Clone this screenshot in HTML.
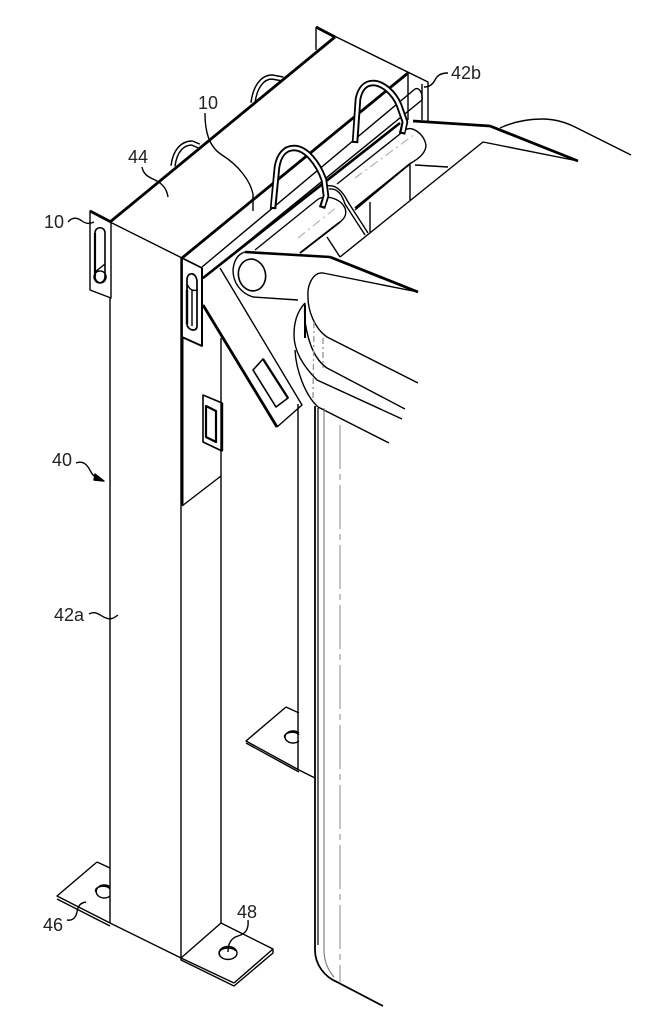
<!DOCTYPE html>
<html><head><meta charset="utf-8"><style>
html,body{margin:0;padding:0;background:#fff;width:654px;height:1024px;overflow:hidden}
svg{display:block}
text{font-family:"Liberation Sans",sans-serif;font-size:18px;fill:#222;stroke:none}
</style></head><body>
<svg width="654" height="1024" viewBox="0 0 654 1024" xmlns="http://www.w3.org/2000/svg" fill="none" stroke="#000" stroke-width="1.4" stroke-linejoin="round">
<!-- back hooks -->
<path d="M173 166C175 150 183 143 192 143L199 146" stroke-width="5.5"/><path d="M173 166C175 150 183 143 192 143L199 146" stroke="#fff" stroke-width="2.6"/>
<path d="M253 103C255 86 263 77 272 77L283 79" stroke-width="5.5"/><path d="M253 103C255 86 263 77 272 77L283 79" stroke="#fff" stroke-width="2.6"/>
<!-- top -->
<path d="M316 27L316 50M316 27L428 82L428 121M335 37L316 27M422 84V120M408 73V120" />
<path d="M110 222L335 37M316 27L335 37" stroke-width="2.8"/>
<path d="M182 258L408 73" stroke-width="2.8"/>
<path d="M110 222L182 258"/>
<!-- rod & rails -->
<path d="M202 267L415 89M202 279L422 100M415 89C419 87 423 93 422 100" />
<path d="M203 278L400 123" stroke-width="2.6"/>
<path d="M413 121L490 126" stroke-width="2.8"/>
<path d="M490 126L578 161" stroke-width="2.8"/>
<path d="M578 161L483 142L340 257M500 128C515 121 530 119 542 119C555 119 565 122 575 127L631 155"/>
<path d="M410 165V200M415 165L448 167M370 202V232M327 237L340 257"/>
<!-- rollers -->
<path d="M337 184L405 130C412 125 424 134 426 145C426 152 420 158 411 163L355 210" fill="#fff"/>
<path d="M255 250L317 200C325 194 340 198 345 208C347 214 345 218 340 222L300 253" fill="#fff"/>
<path d="M355 178L415 134M298 238L338 206" stroke="#bbb" stroke-dasharray="9 4 2 4" />
<path d="M355 208L411 163M300 253L340 222" stroke-width="1.8"/>
<path d="M327 186C336 184 343 192 348 202L368 233M329 189C338 188 342 195 345 204L365 235" />
<!-- main post -->
<path d="M110 222V923M181 258V958M221 338V923" />
<path d="M110 923L181 958" />
<!-- left tab -->
<path d="M90 211L111 222V298L90 290Z" fill="#fff"/>
<path d="M90 211L111 222" stroke-width="2.8"/>
<path d="M95 233C95 226 105 226 105 233V276C105 285 95 285 95 276Z" fill="#fff" stroke-width="1.6"/>
<path d="M95 233V276" stroke-width="2.2"/>
<path d="M95 272L105 264M100 271a6 6 0 1 0 .1 0" />
<!-- panel below right tab -->
<path d="M182 336V505" stroke-width="3"/>
<path d="M182 506L221 476"/>
<path d="M203 395L222 403V451L203 442Z" stroke-width="1.6"/>
<path d="M222 403V451" stroke-width="2.4"/>
<path d="M206 406L216 411V442L206 437Z" stroke-width="2.2"/>
<!-- strap -->
<path d="M220 268L302 405L277 427L203 305Z" fill="#fff" stroke="none"/>
<path d="M220 268L302 405L277 427" />
<path d="M203 305L277 427" stroke-width="2.8"/>
<path d="M263 359L288 398L276 407L253 370Z" stroke-width="1.6"/>
<path d="M263 359L288 398" stroke-width="2.3"/>
<!-- right tab -->
<path d="M182 258L202 268V346L182 337Z" fill="#fff" stroke-width="1.8"/>
<path d="M202 268V346" stroke-width="2"/>
<path d="M187 280C187 271 197 272 197 282V326C197 333 187 330 187 324Z" fill="#fff" stroke-width="1.7"/>
<path d="M187 284C190 291 194 291 197 290M192 290V326" />
<path d="M187 290V324" stroke-width="2.4"/>
<!-- gate arm -->
<path d="M245 252L330 257L418 292L323 273C313 272 307 285 308 297L298 300L253 297C240 293 233 282 233 270C234 260 238 254 245 252Z" fill="#fff" stroke="none"/>
<path d="M245 252L330 257" stroke-width="2.6"/>
<path d="M330 257L418 292" stroke-width="2.8"/>
<path d="M245 252C238 254 234 260 233 270C233 282 240 293 253 297L298 300"/>
<path d="M418 292L323 273C313 272 307 285 308 297"/>
<ellipse cx="252" cy="275" rx="13.5" ry="16" transform="rotate(-12 252 275)" fill="#fff" stroke-width="1.6"/>
<!-- door curves -->
<path d="M308 297C308 310 314 328 327 337L418 383"/>
<path d="M305 303C303 322 309 356 327 368L405 409"/>
<path d="M305 303C297 312 294 322 294 335C294 352 305 368 317 380L402 419"/>
<path d="M305 305V338" stroke-width="2"/>
<path d="M295 350C296 370 305 395 318 407L389 443"/>
<path d="M314 322L313 400M323 338V368" stroke="#999" stroke-dasharray="6 3 2 3"/>
<!-- hooks front -->
<path d="M273 209L277 167C279 155 285 148 294 148C306 148 318 163 324 180L326 196L322 208" fill="none" stroke-width="6.5"/>
<path d="M273 207L277 167C279 155 285 148 294 148C306 148 318 163 324 180L326 196L323 206" fill="none" stroke="#fff" stroke-width="2.8"/>
<path d="M355 143L358 99C360 89 365 83 373 83C383 83 394 93 399 105L405 122L402 134" stroke-width="6.5"/>
<path d="M355 141L358 99C360 89 365 83 373 83C383 83 394 93 399 105L405 122L403 132" stroke="#fff" stroke-width="2.8"/>
<!-- verticals -->
<path d="M298 404V770"/>
<path d="M315 406V950C315 965 325 977 337 982L383 1006" stroke-width="1.8"/>
<path d="M318 408V945" stroke-width="1.2"/>
<path d="M324 408V950C324 962 328 970 334 977" stroke="#777" stroke-width="1.1"/>
<path d="M340 425V982" stroke="#888" stroke-width="1" stroke-dasharray="44 5 6 5"/>
<!-- back base plate -->
<path d="M286 707L246 741L299 770L315 778M286 707L299 713M246 743L299 772"/>
<path d="M299 733A8 6 0 1 0 299 741M299 735A7 4 0 0 0 285 738"/>
<!-- left base plate -->
<path d="M97 862L57 896L110 923M97 862L110 868M57 899L110 926" />
<path d="M110 887A8 6.5 0 1 0 110 896M110 889A7 4 0 0 0 96 892"/>
<!-- right base plate -->
<path d="M181 958L221 923L273 949V953L234 986L181 960V958M234 983L273 949M181 958L234 983"/>
<ellipse cx="228" cy="953" rx="9" ry="6.5" stroke-width="1.4"/>
<path d="M220 955A8 4.5 0 0 1 236 951"/>
<!-- leaders -->
<path d="M68 222C73 216 78 218 82 221C86 224 90 224 94 222"/>
<path d="M142 167C144 178 154 178 160 183C165 187 167 191 168 197"/>
<path d="M205 113C205 130 208 146 222 155C238 165 250 180 253 194L253 211"/>
<path d="M448 73C440 73 437 76 435 80C433 84 430 87 424 87"/>
<path d="M76 463C84 460 88 466 91 472C93 476 96 478 101 479"/>
<path d="M104 481L95 474L94 480Z" fill="#000"/>
<path d="M89 614C96 610 100 616 106 618C111 620 114 618 118 615"/>
<path d="M67 920C73 921 76 917 77 912C78 906 80 903 86 902"/>
<path d="M248 920C249 930 245 934 238 936C231 938 228 944 228 952"/>
<!-- labels -->
<text x="44" y="228">10</text>
<text x="128" y="163">44</text>
<text x="198" y="109">10</text>
<text x="451" y="79">42b</text>
<text x="52" y="466">40</text>
<text x="54" y="621">42a</text>
<text x="43" y="931">46</text>
<text x="237" y="918">48</text>
</svg>
</body></html>
